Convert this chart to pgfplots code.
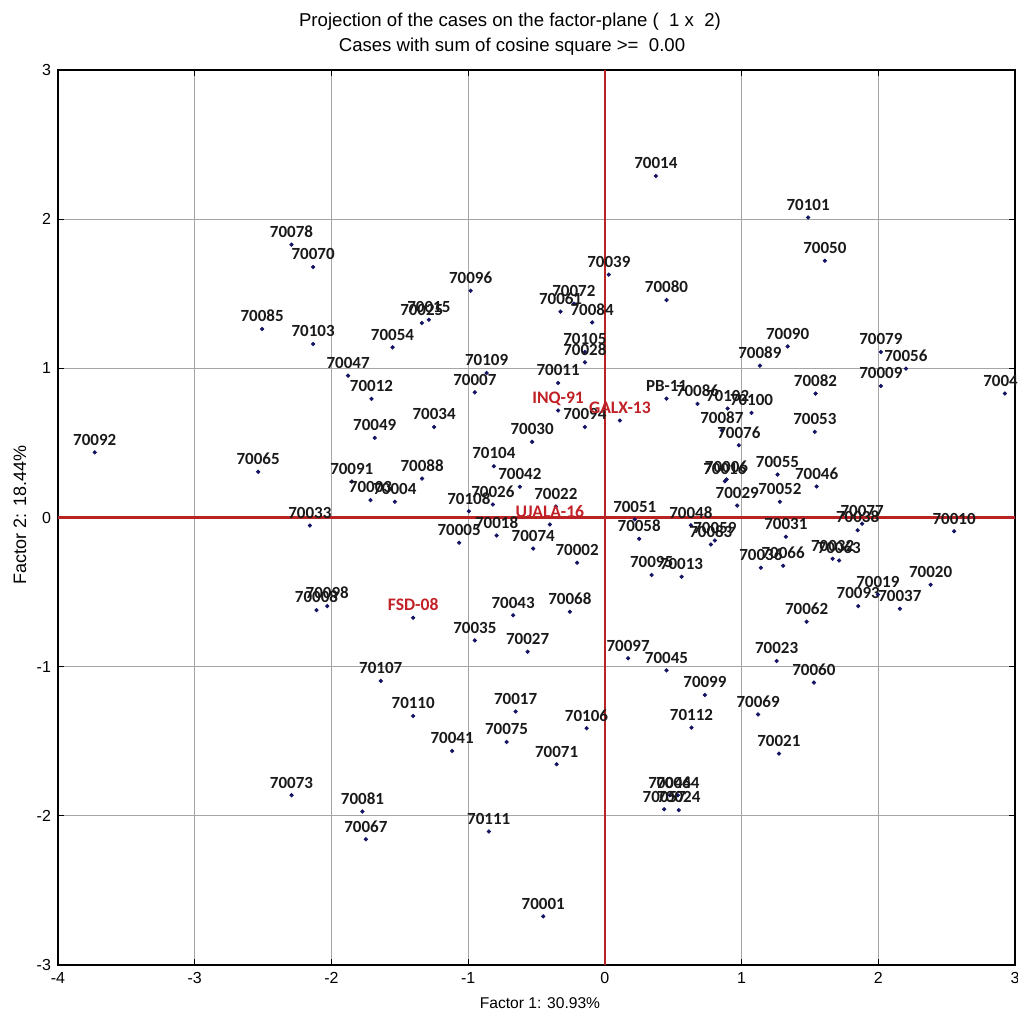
\documentclass[border=0pt]{standalone}
\usepackage{fontspec}
\setmainfont{Liberation Sans}
\newfontfamily\carlito{Carlito}
\usepackage{pgfplots}
\usepackage{pgfplotstable}
\pgfplotsset{compat=1.18}
\definecolor{navy}{RGB}{20,20,100}
\definecolor{axred}{RGB}{185,35,35}
\definecolor{labred}{RGB}{192,32,38}
\definecolor{gridgray}{RGB}{165,165,165}

\pgfplotstableread{
x y label
-3.731 0.437 70092
-2.536 0.306 70065
-2.292 1.829 70078
-2.134 1.679 70070
-2.507 1.264 70085
-2.134 1.163 70103
-1.553 1.141 70054
-1.339 1.304 70025
-1.287 1.326 70015
-0.982 1.520 70096
-1.878 0.951 70047
-0.865 0.969 70109
-1.707 0.795 70012
-0.951 0.839 70007
-1.249 0.607 70034
-1.683 0.534 70049
-0.532 0.507 70030
-0.812 0.344 70104
-1.337 0.261 70088
-0.622 0.206 70042
-1.851 0.241 70091
-1.714 0.116 70003
-1.536 0.105 70004
-0.819 0.087 70026
-0.995 0.042 70108
-2.158 -0.054 70033
-1.066 -0.169 70005
-0.792 -0.121 70018
-0.524 -0.208 70074
-2.109 -0.621 70008
-2.031 -0.594 70098
-0.671 -0.656 70043
-0.951 -0.824 70035
-0.565 -0.900 70027
-1.639 -1.096 70107
-1.402 -1.331 70110
-0.653 -1.301 70017
-0.719 -1.505 70075
-1.117 -1.565 70041
-2.292 -1.862 70073
-1.773 -1.971 70081
-1.748 -2.157 70067
-0.849 -2.105 70111
-0.451 -2.674 70001
-0.353 -1.654 70071
-0.134 -1.413 70106
0.634 -1.409 70112
0.732 -1.190 70099
1.121 -1.320 70069
0.451 -1.025 70045
0.170 -0.944 70097
-0.256 -0.632 70068
-0.203 -0.303 70002
0.342 -0.386 70095
0.561 -0.397 70013
0.475 -1.862 70044
0.534 -1.862 70064
0.434 -1.956 70057
0.541 -1.962 70024
1.273 -1.583 70021
1.529 -1.107 70060
1.256 -0.962 70023
1.476 -0.699 70062
1.853 -0.594 70093
1.997 -0.516 70019
2.158 -0.612 70037
2.383 -0.451 70020
1.666 -0.277 70032
1.714 -0.288 70063
1.304 -0.324 70066
1.141 -0.337 70036
1.324 -0.129 70031
2.555 -0.092 70010
1.882 -0.042 70077
1.849 -0.085 70038
1.280 0.105 70052
1.549 0.208 70046
1.263 0.288 70055
1.536 0.574 70053
1.541 0.831 70082
2.926 0.831 70040
2.019 0.882 70009
2.202 0.998 70056
2.019 1.110 70079
1.337 1.147 70090
1.134 1.018 70089
1.487 2.011 70101
1.609 1.721 70050
0.373 2.289 70014
0.029 1.628 70039
0.451 1.458 70080
-0.324 1.380 70061
-0.227 1.433 70072
-0.093 1.308 70084
-0.146 1.110 70105
-0.146 1.040 70028
-0.342 0.902 70011
-0.146 0.607 70094
0.451 0.797 PB-11
0.678 0.762 70086
0.898 0.730 70102
1.073 0.701 70100
0.856 0.583 70087
0.980 0.484 70076
0.878 0.243 70016
0.890 0.255 70006
0.968 0.080 70029
-0.358 0.074 70022
0.219 -0.013 70051
0.251 -0.143 70058
0.629 -0.052 70048
0.805 -0.154 70059
0.775 -0.181 70083
}\tblack

\pgfplotstableread{
x y label
-0.342 0.717 INQ-91
0.110 0.650 GALX-13
-0.402 -0.047 UJALA-16
-1.402 -0.672 FSD-08
}\tred

\begin{document}
\begin{tikzpicture}
\useasboundingbox (0,0) rectangle (509pt,508pt);
\begin{axis}[
  at={(29pt,25.5pt)}, anchor=south west,
  scale only axis, width=478.5pt, height=447.5pt,
  xmin=-4, xmax=3, ymin=-3, ymax=3,
  xtick={-4,-3,-2,-1,0,1,2,3},
  ytick={-3,-2,-1,0,1,2,3},
  xticklabels={-4,-3,-2,-1,0,1,2,3},
  yticklabels={-3,-2,-1,0,1,2,3},
  grid=major,
  major grid style={gridgray, line width=0.5pt},
  tick style={black, line width=0.4pt},
  major tick length=3pt,
  tick align=inside,
  ticklabel style={font=\fontsize{8}{9}\selectfont},
  axis line style={black, line width=0.6pt},
  clip mode=individual,
]
\addplot[axred, line width=0.8pt, forget plot] coordinates {(0,-3) (0,3)};
\addplot[axred, line width=1.1pt, forget plot] coordinates {(-4,0) (3,0)};
\addplot[only marks, mark=*, mark size=0.85pt, mark options={draw=navy, fill=navy},
  nodes near coords, point meta=explicit symbolic,
  every node near coord/.append style={anchor=base, yshift=3.6pt, inner sep=0pt,
    text=black!90, font=\carlito\bfseries\fontsize{8.5}{9}\selectfont}]
  table[x=x, y=y, meta=label]{\tblack};
\addplot[only marks, mark=*, mark size=0.85pt, mark options={draw=navy, fill=navy},
  nodes near coords, point meta=explicit symbolic,
  every node near coord/.append style={anchor=base, yshift=3.6pt, inner sep=0pt,
    text=labred, font=\carlito\bfseries\fontsize{8.8}{9}\selectfont}]
  table[x=x, y=y, meta=label]{\tred};
\end{axis}
\node[font=\fontsize{9.3}{11}\selectfont] at (255pt,497pt) {Projection of the cases on the factor-plane (\ \ 1 x \ 2)};
\node[font=\fontsize{9.3}{11}\selectfont] at (256pt,484.5pt) {Cases with sum of cosine square >= \ 0.00};
\node[font=\fontsize{7.8}{9}\selectfont] at (270pt,6.5pt) {Factor 1: 30.93\%};
\node[font=\fontsize{9}{10}\selectfont, rotate=90] at (10pt,250.5pt) {Factor 2: 18.44\%};
\end{tikzpicture}
\end{document}
